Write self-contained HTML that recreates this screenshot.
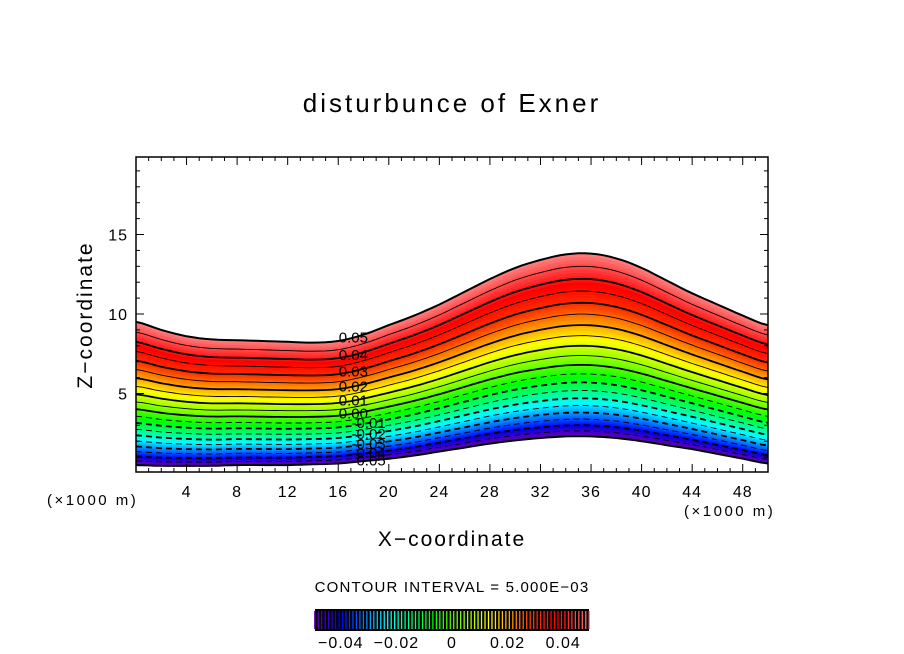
<!DOCTYPE html>
<html><head><meta charset="utf-8"><style>
body{margin:0;background:#fff;}
svg{display:block;font-family:"Liberation Sans",sans-serif;}
</style></head><body>
<svg id="chart" width="904" height="654" viewBox="0 0 904 654" xmlns="http://www.w3.org/2000/svg">
<rect width="904" height="654" fill="#fff"/>
<text x="452" y="112" text-anchor="middle" font-size="26" letter-spacing="3">disturbunce of Exner</text>
<g id="plot"></g>
<rect x="136" y="157" width="632" height="315" fill="none" stroke="#000" stroke-width="1.5"/>
<g id="ticks"></g>
<text x="452" y="546" text-anchor="middle" font-size="21" letter-spacing="2">X−coordinate</text>
<text transform="translate(92,315) rotate(-90)" text-anchor="middle" font-size="21" letter-spacing="2">Z−coordinate</text>
<text x="47" y="505" font-size="15" letter-spacing="2.5">(×1000 m)</text>
<text x="684" y="516" font-size="15" letter-spacing="2.5">(×1000 m)</text>
<text x="452" y="592" text-anchor="middle" font-size="15" letter-spacing="1.2">CONTOUR INTERVAL = 5.000E−03</text>
<g id="cbar"></g>
</svg>
<script>
const xs=[0,2,4,6,8,10,12,14,16,18,20,22,24,26,28,30,32,34,36,38,40,42,44,46,48,50];
const topZ=[9.5,9.0,8.6,8.4,8.35,8.3,8.25,8.2,8.3,8.7,9.3,9.9,10.6,11.4,12.2,12.9,13.4,13.75,13.8,13.5,12.9,12.1,11.3,10.6,9.9,9.3];
const botZ=[0.5,0.45,0.45,0.45,0.5,0.5,0.5,0.55,0.6,0.75,0.9,1.1,1.35,1.6,1.85,2.05,2.2,2.3,2.3,2.2,2.0,1.75,1.5,1.2,0.9,0.6];
const vMin=-0.05, vMax=0.05, interval=0.005;
const xTicks=[4,8,12,16,20,24,28,32,36,40,44,48];
const yTicks=[5,10,15];
const cbarTicks=[-0.04,-0.02,0,0.02,0.04];
const cbarTickLabels=["−0.04","−0.02","0","0.02","0.04"];

const NS="http://www.w3.org/2000/svg";
const X=x=>136+x*632/50;
const Y=z=>473-z*15.9;
function frac(v){const t=(v-vMin)/(vMax-vMin);return 0.56*t+0.44*t*t;}
function cr(arr,u){
  const n=arr.length-1;let i=Math.min(Math.floor(u),n-1);const s=u-i;
  const p0=arr[Math.max(i-1,0)],p1=arr[i],p2=arr[i+1],p3=arr[Math.min(i+2,n)];
  return 0.5*((2*p1)+(-p0+p2)*s+(2*p0-5*p1+4*p2-p3)*s*s+(-p0+3*p1-3*p2+p3)*s*s*s);
}
const fine=[];for(let k=0;k<=100;k++)fine.push(k*(xs.length-1)/100);
function xAtU(u){return xs[0]+(xs[xs.length-1]-xs[0])*u/(xs.length-1);}
function zAtU(u,v){const b=cr(botZ,u),t=cr(topZ,u);return b+(t-b)*frac(v);}
function color(v){
  const t=(v-vMin)/(vMax-vMin);
  let h,l=50,s=100;
  if(t<0.1){h=275-35*(t/0.1);l=35+10*t/0.1;}
  else if(t<0.45){h=240-125*((t-0.1)/0.35);}
  else if(t<0.8){h=115-105*((t-0.45)/0.35);}
  else if(t<0.88){h=10-10*((t-0.8)/0.08);}
  else {h=0;l=50+25*((t-0.88)/0.12);}
  return `hsl(${h},${s}%,${l}%)`;
}
function linePts(v){return fine.map(u=>X(xAtU(u)).toFixed(1)+","+Y(zAtU(u,v)).toFixed(1));}
const plot=document.getElementById('plot');
const sub=80;
for(let k=0;k<sub;k++){
  const v0=vMin+(vMax-vMin)*k/sub, v1=vMin+(vMax-vMin)*(k+1)/sub;
  const pts=linePts(v0).concat(linePts(v1).reverse());
  const pg=document.createElementNS(NS,'polygon');
  
  
  pg.setAttribute('points',pts.join(' '));
  pg.setAttribute('fill',color((v0+v1)/2));
  pg.setAttribute('stroke',color((v0+v1)/2));
  pg.setAttribute('stroke-width','0.6');
  plot.appendChild(pg);
}
const nLev=Math.round((vMax-vMin)/interval);
for(let j=0;j<=nLev;j++){
  const v=vMin+j*interval;
  const pl=document.createElementNS(NS,'polyline');
  
  
  pl.setAttribute('points',linePts(v).join(' '));
  pl.setAttribute('fill','none');
  pl.setAttribute('stroke','#000');
  const major=Math.abs(Math.round(v*1000)%10)===0;
  pl.setAttribute('stroke-width',(j===0||j===nLev)?2:(major?1.8:0.9));
  if(v<-1e-9&&j!==0)pl.setAttribute('stroke-dasharray','6,4');
  plot.appendChild(pl);
  if(major){
    const neg=v<-1e-9;
    const lx=neg?18.4:17.2;
    const u=lx/2;
    const t=document.createElementNS(NS,'text');
    
    
    t.setAttribute('x',X(lx));
    t.setAttribute('y',Y(zAtU(u,v))+5);
    t.setAttribute('text-anchor','middle');
    t.setAttribute('font-size','15');
    t.textContent=(neg?"-":"")+Math.abs(v).toFixed(2);
    plot.appendChild(t);
  }
}
const tk=document.getElementById('ticks');
function ln(x1,y1,x2,y2,w){const l=document.createElementNS(NS,'line');
  
  
  l.setAttribute('x1',x1);l.setAttribute('y1',y1);l.setAttribute('x2',x2);l.setAttribute('y2',y2);
  l.setAttribute('stroke','#000');l.setAttribute('stroke-width',w||1);tk.appendChild(l);}
for(let x=1;x<50;x++){const L=(x%4===0)?8:4;ln(X(x),472,X(x),472-L);ln(X(x),157,X(x),157+L);}
for(let z=1;z<20;z++){const L=(z%5===0)?8:4;ln(136,Y(z),136+L,Y(z));ln(768,Y(z),768-L,Y(z));}
xTicks.forEach(x=>{const t=document.createElementNS(NS,'text');
  
  
  t.setAttribute('x',X(x));t.setAttribute('y',497);t.setAttribute('text-anchor','middle');t.setAttribute('font-size','16');t.setAttribute('letter-spacing','1');t.textContent=x;tk.appendChild(t);});
yTicks.forEach(z=>{const t=document.createElementNS(NS,'text');
  
  
  t.setAttribute('x',128);t.setAttribute('y',Y(z)+6);t.setAttribute('text-anchor','end');t.setAttribute('font-size','16');t.setAttribute('letter-spacing','1');t.textContent=z;tk.appendChild(t);});
const cb=document.getElementById('cbar');
const CX=v=>452+v*2780;
const bg=document.createElementNS(NS,'rect');


bg.setAttribute('x',315);bg.setAttribute('y',609);bg.setAttribute('width',274);bg.setAttribute('height',22);bg.setAttribute('fill','#000');
cb.appendChild(bg);
for(let k=0;k<80;k++){const v=vMin+(k+0.5)*(vMax-vMin)/80;
  const l=document.createElementNS(NS,'line');
  
  
  l.setAttribute('x1',CX(v));l.setAttribute('x2',CX(v));l.setAttribute('y1',611);l.setAttribute('y2',629);
  l.setAttribute('stroke',color(v));l.setAttribute('stroke-width',1.3);cb.appendChild(l);}
cbarTicks.forEach((v,i)=>{const t=document.createElementNS(NS,'text');
  
  
  t.setAttribute('x',CX(v));t.setAttribute('y',648);t.setAttribute('text-anchor','middle');t.setAttribute('font-size','16');t.setAttribute('letter-spacing','1');t.textContent=cbarTickLabels[i];cb.appendChild(t);});
</script>
</body></html>
